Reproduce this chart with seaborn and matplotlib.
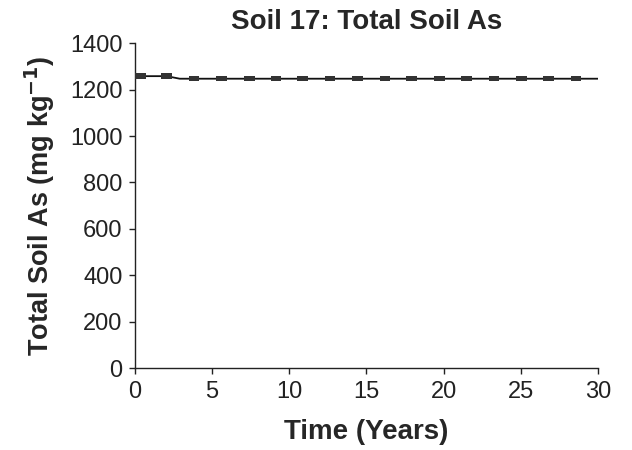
import matplotlib
matplotlib.use("Agg")
import matplotlib.pyplot as plt
import seaborn as sns
import pandas as pd
import numpy as np

# Data
line_time = [0, 0.37, 2.05, 2.9, 3.82, 30]
line_as = [1258, 1258, 1258, 1247, 1247, 1247]
marker_time = [0.37, 2.05, 3.82, 5.62, 7.41, 9.14, 10.87, 12.64, 14.41,
               16.2, 17.93, 19.72, 21.5, 23.27, 25.06, 26.79, 28.58]
marker_as = [1258, 1258, 1247, 1247, 1247, 1247, 1247, 1247, 1247,
             1247, 1247, 1247, 1247, 1247, 1247, 1247, 1247]
xticks = [0, 5, 10, 15, 20, 25, 30]
yticks = [0, 200, 400, 600, 800, 1000, 1200, 1400]

sns.set_style("ticks")
plt.rcParams['font.family'] = ['Liberation Sans', 'DejaVu Sans']

fig = plt.figure(figsize=(6.32, 4.5), dpi=100)
ax = fig.add_axes([0.2136, 0.182, 0.7324, 0.722])

line_df = pd.DataFrame({"Time": line_time, "As": line_as})
mk_df = pd.DataFrame({"Time": marker_time, "As": marker_as})

sns.lineplot(data=line_df, x="Time", y="As", ax=ax, color="#111111", linewidth=1.3)
rect = [(-1.6, -0.8), (1.6, -0.8), (1.6, 0.8), (-1.6, 0.8), (-1.6, -0.8)]
sns.scatterplot(data=mk_df, x="Time", y="As", ax=ax, marker=rect, s=60,
                color="#333333", edgecolor="none", linewidth=0, zorder=3)

ax.set_xlim(0, 30)
ax.set_ylim(0, 1400)
ax.set_xticks(xticks)
ax.set_yticks(yticks)
ax.tick_params(axis="both", labelsize=17, length=4, width=1, direction="out",
               colors="#222222", pad=5)
for lab in ax.get_xticklabels() + ax.get_yticklabels():
    lab.set_color("#222222")
sns.despine(ax=ax)
for s in ["left", "bottom"]:
    ax.spines[s].set_color("#222222")
    ax.spines[s].set_linewidth(1)

ax.set_xlabel("Time (Years)", fontsize=20, fontweight="bold", labelpad=12)
ax.set_ylabel("Total Soil As (mg kg$^{\\mathbf{-1}}$)", fontsize=19.5, fontweight="bold", labelpad=9)
ax.set_title("Soil 17: Total Soil As", fontsize=20, fontweight="bold", pad=10)

fig.savefig("out.png", dpi=100, facecolor="white")
